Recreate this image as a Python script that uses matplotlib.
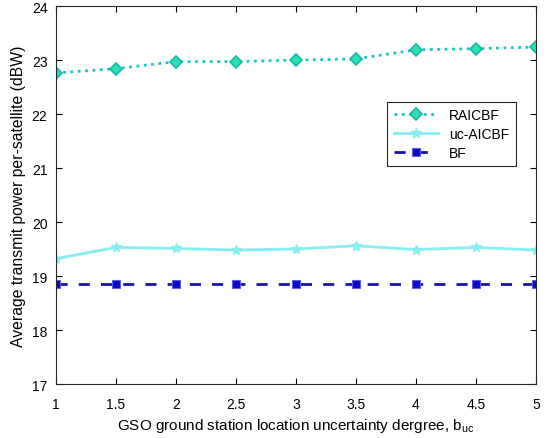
import matplotlib
matplotlib.use("Agg")
import matplotlib.pyplot as plt

plt.rcParams['font.family'] = ['Liberation Sans', 'DejaVu Sans']

b_uc = [1, 1.5, 2, 2.5, 3, 3.5, 4, 4.5, 5]
raicbf = [22.76, 22.84, 22.97, 22.97, 23.0, 23.02, 23.19, 23.21, 23.24]
uc_aicbf = [19.32, 19.53, 19.51, 19.48, 19.5, 19.56, 19.49, 19.53, 19.48]
bf = [18.85] * 9

fig = plt.figure(figsize=(5.47, 4.39), dpi=100)
ax = fig.add_axes([0.102, 0.123, 0.878, 0.861])

ax.plot(b_uc, raicbf, ':', color='#1cc4c4', lw=2, marker='D', ms=6,
        mfc='#2de0b4', mec='#16b8a8', mew=1.2, label='RAICBF')
ax.plot(b_uc, uc_aicbf, '-', color='#86eef0', lw=2, marker='*', ms=7,
        mfc='#86eef0', mec='#86eef0', label='uc-AICBF')
ax.plot(b_uc, bf, '--', color='#1414b4', lw=2, marker='s', ms=6,
        mfc='#0a0ac8', mec='#6060e0', mew=0.8, label='BF', dashes=(4, 4))

ax.set_xlim(1, 5)
ax.set_ylim(17, 24)
ax.set_xticks(b_uc)
ax.set_xticklabels(['1', '1.5', '2', '2.5', '3', '3.5', '4', '4.5', '5'])
ax.tick_params(direction='in', top=True, right=True, labelsize=10, length=4)
ax.tick_params(axis='x', pad=9)
ax.tick_params(axis='y', pad=6)
for s in ax.spines.values():
    s.set_color('#262626')
    s.set_linewidth(0.8)

ax.set_xlabel('GSO ground station location uncertainty dergree, b$_{\\mathregular{uc}}$', fontsize=11)
ax.set_ylabel('Average transmit power per-satellite (dBW)', fontsize=11.3)

leg = ax.legend(loc='upper right', bbox_to_anchor=(0.972, 0.765), fontsize=10,
                fancybox=False, framealpha=1, edgecolor='#262626',
                handlelength=3.2, borderpad=0.45, labelspacing=0.35)
leg.get_frame().set_linewidth(0.8)

fig.savefig('out.png', dpi=100)
